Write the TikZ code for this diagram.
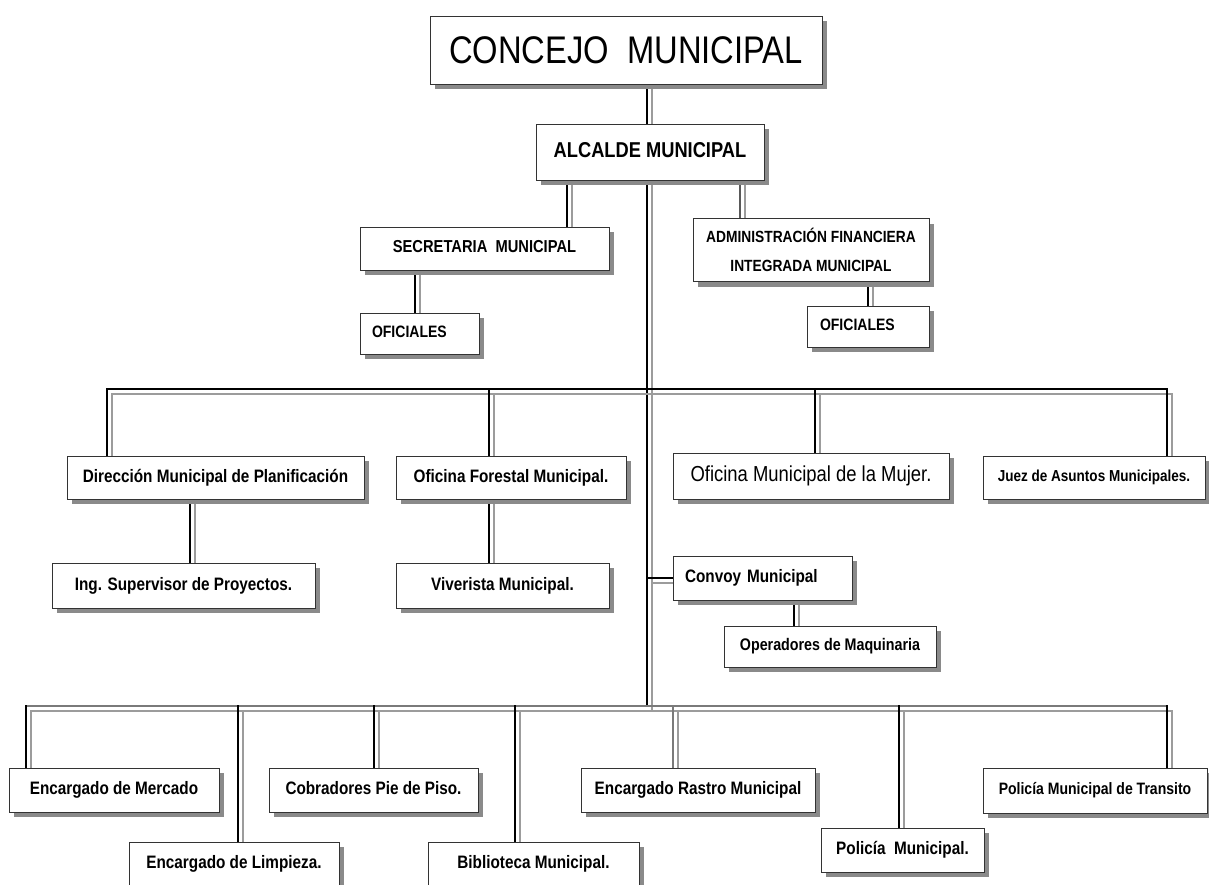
\documentclass[tikz,border=0pt]{standalone}
\usepackage{fontspec}
\setmainfont{Liberation Sans}[FakeStretch=0.85]
\usetikzlibrary{shadows,backgrounds}

\definecolor{boxshade}{HTML}{8A8A8A}
\definecolor{wireshade}{HTML}{9C9C9C}
\definecolor{busgray}{HTML}{7A7A7A}

% connector: light line shifted down-right, dark line on top
\newcommand{\wire}[2][black]{%
  \draw[wireshade,line width=2pt,line cap=rect,transform canvas={shift={(5pt,-5pt)}}] #2;
  \draw[#1,line width=2pt,line cap=rect] #2;}

\begin{document}
\begin{tikzpicture}[x=1pt,y=-1pt,
    box/.style={draw=black!80,line width=0.8pt,fill=white,inner sep=0pt,
      font=\bfseries\fontsize{18}{20}\selectfont,
      drop shadow={shadow xshift=5pt,shadow yshift=-5pt,opacity=1,fill=boxshade}},
    onebox/.style={box,text depth=3.8pt}]

      \useasboundingbox (0,0) rectangle (1209,884);

      \node[box,minimum width=236pt,minimum height=63pt,align=center,font=\bfseries\fontsize{16.2}{29}\selectfont] (afim) at (811,250) {ADMINISTRACIÓN FINANCIERA\\INTEGRADA MUNICIPAL};

      \begin{scope}[every node/.style=onebox]
        \node[minimum width=392pt,minimum height=68pt,text depth=0pt,font=\fontsize{38.5}{40}\selectfont] (concejo) at (626,50) {CONCEJO\ \ MUNICIPAL};
        \node[minimum width=228pt,minimum height=56pt,font=\bfseries\fontsize{21.5}{24}\selectfont] (alcalde) at (650,152) {ALCALDE MUNICIPAL};
        \node[minimum width=249pt,minimum height=43pt,font=\bfseries\fontsize{17.3}{20}\selectfont] (secret) at (484.5,248.5) {SECRETARIA\ \ MUNICIPAL};
        \node[text width=95pt,inner xsep=12pt,minimum height=41pt,align=left,font=\bfseries\fontsize{16.5}{20}\selectfont] (ofic1) at (419.5,333.5) {OFICIALES};
        \node[text width=96pt,inner xsep=13pt,minimum height=41pt,align=left,font=\bfseries\fontsize{16.5}{20}\selectfont] (ofic2) at (868,326.5) {OFICIALES};

        \node[minimum width=297pt,minimum height=43pt] (dirplan)  at (215.5,477.5) {Dirección Municipal de Planificación};
        \node[minimum width=230pt,minimum height=43pt] (forestal) at (511,477.5)   {Oficina Forestal Municipal.};
        \node[minimum width=276pt,minimum height=46pt,text depth=4.5pt,font=\fontsize{21.7}{24}\selectfont] (mujer) at (811,476) {Oficina Municipal de la Mujer.};
        \node[minimum width=222pt,minimum height=43pt,font=\bfseries\fontsize{15.9}{18}\selectfont] (juez) at (1094,477.5) {Juez de Asuntos Municipales.};
        \node[minimum width=263pt,minimum height=45pt] (ingsup)   at (183.5,585.5) {Ing. Supervisor de Proyectos.};
        \node[minimum width=213pt,minimum height=45pt] (vivero)   at (502.5,585.5) {Viverista Municipal.};
        \node[text width=155pt,inner xsep=12pt,minimum height=44pt,align=left] (convoy) at (762.5,578) {Convoy Municipal};
        \node[minimum width=212pt,minimum height=41pt,font=\bfseries\fontsize{16.8}{18}\selectfont] (operad) at (830,646.5) {Operadores de Maquinaria};

        \node[minimum width=210pt,minimum height=44pt] (mercado)  at (114,790)    {Encargado de Mercado};
        \node[minimum width=209pt,minimum height=44pt] (cobrad)   at (373.5,790)  {Cobradores Pie de Piso.};
        \node[minimum width=234pt,minimum height=44pt] (rastro)   at (698,790)    {Encargado Rastro Municipal};
        \node[minimum width=224pt,minimum height=45pt,font=\bfseries\fontsize{16.5}{18}\selectfont] (transito) at (1095,790.5) {Policía Municipal de Transito};
        \node[minimum width=210pt,minimum height=44pt] (limpieza) at (234,864)    {Encargado de Limpieza.};
        \node[minimum width=211pt,minimum height=44pt] (biblio)   at (533.5,864)  {Biblioteca Municipal.};
        \node[minimum width=163pt,minimum height=44pt] (policia)  at (902.5,850)  {Policía\ \ Municipal.};
      \end{scope}

      \begin{scope}[on background layer]
        \fill[white] (0,0) rectangle (1209,884);
        \coordinate (trunk) at (647,706);
        \coordinate (upL) at (107,389);
        \coordinate (upR) at (1167,389);
        \coordinate (lowL) at (26,706);
        \coordinate (lowR) at (1167,706);

        \wire{(concejo.south -| trunk) -- (alcalde.north -| trunk)}
        \wire{(alcalde.south -| 567,0) -- (secret.north -| 567,0)}
        \wire[black!65]{(alcalde.south -| 740,0) -- (afim.north -| 740,0)}
        \wire{(secret.south -| 415,0) -- (ofic1.north -| 415,0)}
        \wire{(afim.south -| 868,0) -- (ofic2.north -| 868,0)}
        \wire{(alcalde.south -| trunk) -- (trunk)}

        % upper row
        \wire{(dirplan.north -| upL) -- (upL) -- (upR) -- (juez.north -| upR)}
        \wire{(upL -| 489,0) -- (forestal.north -| 489,0)}
        \wire{(upL -| 815,0) -- (mujer.north -| 815,0)}
        \wire{(dirplan.south -| 190,0) -- (ingsup.north -| 190,0)}
        \wire{(forestal.south -| 489,0) -- (vivero.north -| 489,0)}
        \wire{(convoy.west -| trunk) -- (convoy.west)}
        \wire{(convoy.south -| 794,0) -- (operad.north -| 794,0)}

        % lower row
        \wire[busgray]{(lowL) -- (lowR)}
        \foreach \x/\n in {26/mercado,238/limpieza,374/cobrad,515/biblio,899/policia,1167/transito}
          {\wire{(lowL -| \x,0) -- (\n.north -| \x,0)}}
        \wire[busgray]{(lowL -| 673,0) -- (rastro.north -| 673,0)}
      \end{scope}

    \end{tikzpicture}
\end{document}
